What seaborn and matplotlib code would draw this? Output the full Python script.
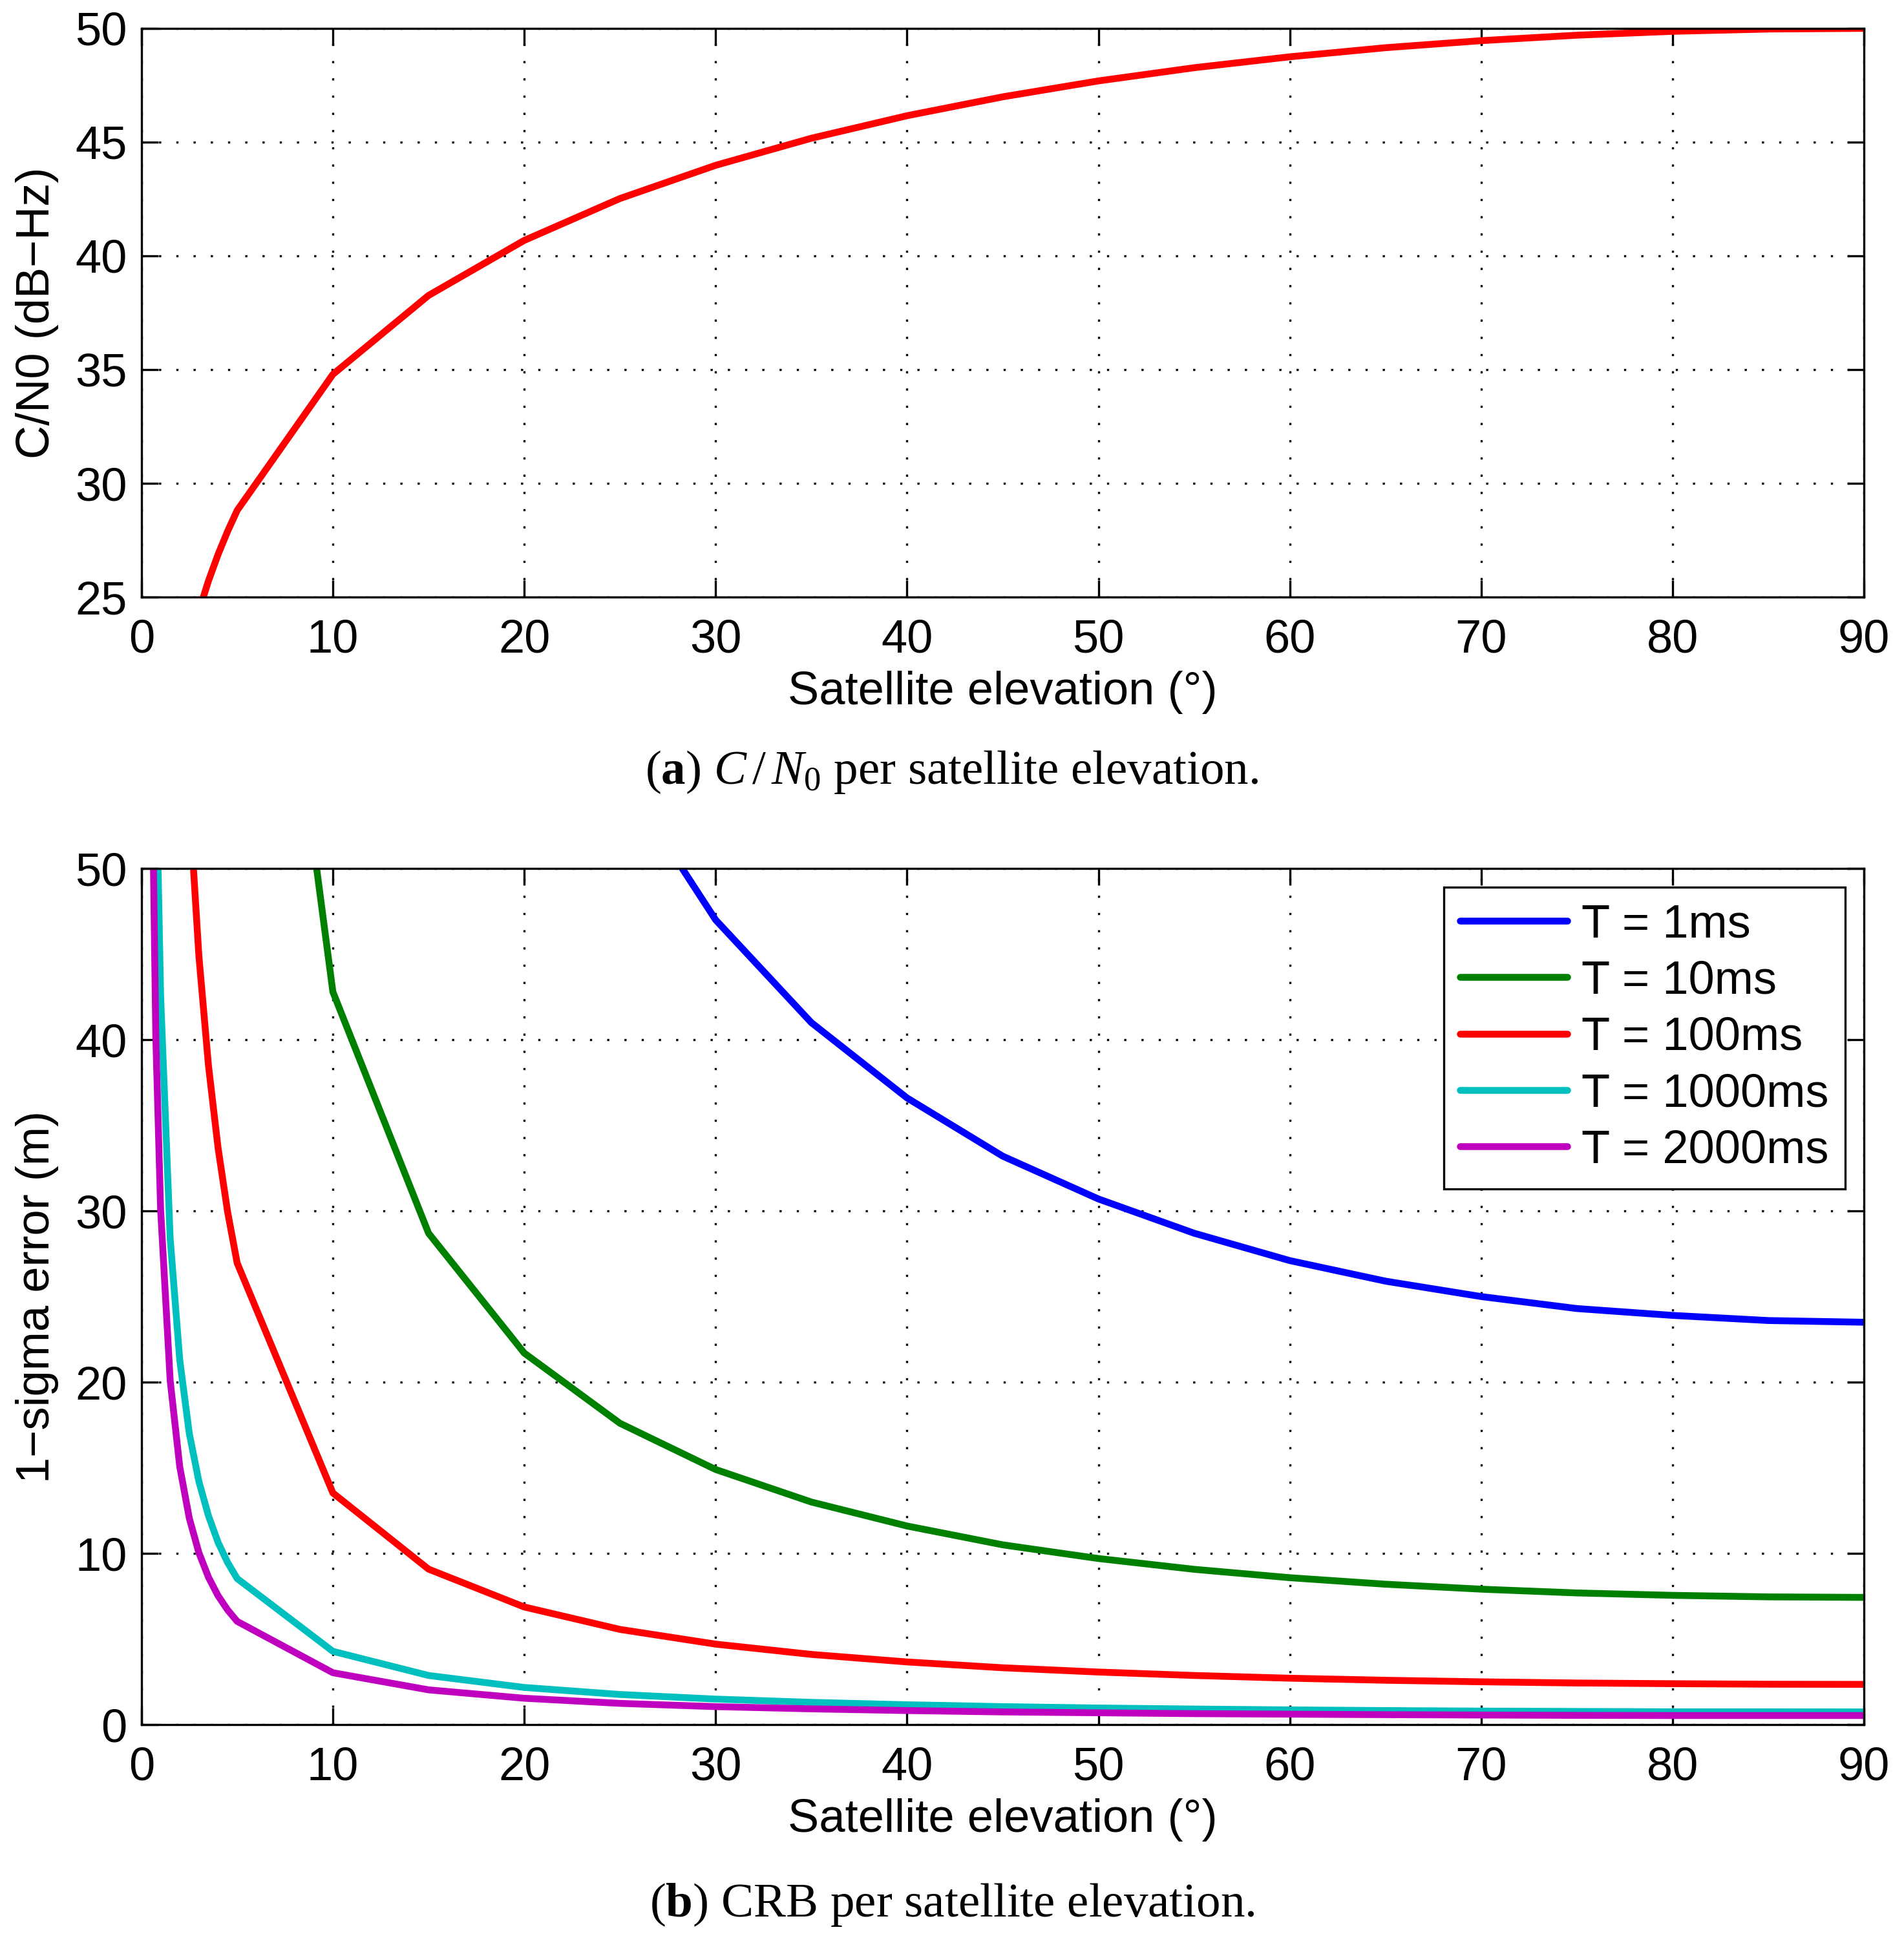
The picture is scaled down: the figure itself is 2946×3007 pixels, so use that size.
import pandas as pd
import matplotlib
matplotlib.use("Agg")
import matplotlib.pyplot as plt
import seaborn as sns
from matplotlib.lines import Line2D

# elevation samples (deg) and values
elevation = [0.25, 0.5, 0.75, 1, 1.5, 2, 2.5, 3, 3.5, 4, 4.5, 5, 10, 15, 20, 25, 30,
             35, 40, 45, 50, 55, 60, 65, 70, 75, 80, 85, 90]

cn0 = [2.80, 8.82, 12.34, 14.84, 18.36, 20.86, 22.79, 24.38, 25.71, 26.87, 27.89, 28.81,
       34.79, 38.26, 40.68, 42.52, 43.98, 45.17, 46.16, 46.99, 47.69, 48.27, 48.75, 49.15,
       49.46, 49.70, 49.87, 49.97, 50.00]

err_1ms = [5386, 2693, 1795, 1346.5, 897.7, 673.4, 538.8, 449.0, 384.9, 336.9, 299.5, 269.6,
           135.3, 90.8, 68.7, 55.6, 47.0, 41.0, 36.6, 33.2, 30.7, 28.7, 27.1, 25.9, 25.0,
           24.3, 23.9, 23.6, 23.5]
err_10ms = [1703, 851.6, 567.7, 425.8, 283.9, 212.9, 170.4, 142.0, 121.7, 106.5, 94.7, 85.3,
            42.8, 28.7, 21.7, 17.6, 14.9, 13.0, 11.6, 10.5, 9.7, 9.07, 8.58, 8.20, 7.91,
            7.69, 7.55, 7.46, 7.43]
err_100ms = [538.6, 269.3, 179.5, 134.7, 89.8, 67.3, 53.9, 44.9, 38.5, 33.7, 29.95, 26.96,
             13.53, 9.08, 6.87, 5.56, 4.70, 4.10, 3.66, 3.32, 3.07, 2.87, 2.71, 2.59, 2.50,
             2.43, 2.39, 2.36, 2.35]
err_1000ms = [170.3, 85.2, 56.8, 42.6, 28.4, 21.3, 17.0, 14.2, 12.2, 10.65, 9.47, 8.53,
              4.28, 2.87, 2.17, 1.76, 1.49, 1.30, 1.16, 1.05, 0.97, 0.91, 0.86, 0.82, 0.79,
              0.77, 0.75, 0.75, 0.74]
err_2000ms = [120.4, 60.2, 40.1, 30.1, 20.1, 15.06, 12.05, 10.04, 8.61, 7.53, 6.70, 6.03,
              3.03, 2.03, 1.54, 1.24, 1.05, 0.92, 0.82, 0.74, 0.69, 0.64, 0.61, 0.58, 0.56,
              0.54, 0.53, 0.53, 0.53]

series_labels = ["T = 1ms", "T = 10ms", "T = 100ms", "T = 1000ms", "T = 2000ms"]
series_colors = ["#0000ff", "#008000", "#ff0000", "#00bfbf", "#bf00bf"]

sns.set_style("ticks")
plt.rcParams['font.family'] = ['Liberation Sans', 'DejaVu Sans']
plt.rcParams['mathtext.fontset'] = 'custom'
plt.rcParams['mathtext.rm'] = 'Liberation Serif'
plt.rcParams['mathtext.it'] = 'Liberation Serif:italic'
plt.rcParams['mathtext.bf'] = 'Liberation Serif:bold'
for key in ['text.color', 'axes.labelcolor', 'xtick.color', 'ytick.color', 'axes.edgecolor']:
    plt.rcParams[key] = 'black'

# data frames
top_df = pd.DataFrame({"elev": elevation, "cn0": cn0})
parts = []
for lab, vals in zip(series_labels, [err_1ms, err_10ms, err_100ms, err_1000ms, err_2000ms]):
    parts.append(pd.DataFrame({"elev": elevation, "err": vals, "T": lab}))
bottom_df = pd.concat(parts, ignore_index=True)

fig = plt.figure(figsize=(14.73, 15.035), dpi=200)
ax1 = fig.add_axes([0.0743, 0.6927, 0.9047, 0.2927])
ax2 = fig.add_axes([0.0743, 0.1124, 0.9047, 0.4406])

LW = 3.8


def style_axes(ax):
    ax.set_xlim(0, 90)
    ax.set_xticks(range(0, 91, 10))
    ax.grid(True, color='black', linestyle=(0, (1, 7)), linewidth=1.2)
    ax.tick_params(direction='in', length=9.5, width=1.2, top=True, right=True,
                   labelsize=26, colors='black')
    ax.tick_params(axis='x', pad=12)
    ax.tick_params(axis='y', pad=8)
    for sp in ax.spines.values():
        sp.set_linewidth(1.2)
        sp.set_color('black')
        sp.set_visible(True)
    ax.set_xlabel("Satellite elevation (°)", fontsize=26, labelpad=5)


# (a) C/N0
sns.lineplot(data=top_df, x="elev", y="cn0", color="#ff0000", linewidth=LW,
             estimator=None, ax=ax1)
style_axes(ax1)
ax1.set_ylim(25, 50)
ax1.set_yticks(range(25, 51, 5))
ax1.set_ylabel("C/N0 (dB\u2212Hz)", fontsize=26, labelpad=9)

# (b) CRB
sns.lineplot(data=bottom_df, x="elev", y="err", hue="T", palette=series_colors,
             linewidth=LW, estimator=None, ax=ax2, legend=False)
style_axes(ax2)
ax2.set_ylim(0, 50)
ax2.set_yticks(range(0, 51, 10))
ax2.set_ylabel("1\u2212sigma error (m)", fontsize=26, labelpad=9)

handles = [Line2D([], [], color=c, linewidth=LW) for c in series_colors]
leg = ax2.legend(handles, series_labels, loc='upper right', bbox_to_anchor=(0.989, 0.978),
                 borderaxespad=0, fontsize=26, frameon=True, fancybox=False,
                 edgecolor='black', framealpha=1, handlelength=2.3, handletextpad=0.3,
                 labelspacing=0.28, borderpad=0.35)
leg.get_frame().set_linewidth(1.2)

# captions
fig.text(0.5, 0.6026, r"($\mathbf{a}$) $C\,/\,N_0$ per satellite elevation.",
         ha='center', va='center', fontsize=27, family='Liberation Serif')
fig.text(0.5, 0.0196, r"($\mathbf{b}$) CRB per satellite elevation.",
         ha='center', va='center', fontsize=27, family='Liberation Serif')

fig.savefig("out.png", dpi=200, facecolor='white')
